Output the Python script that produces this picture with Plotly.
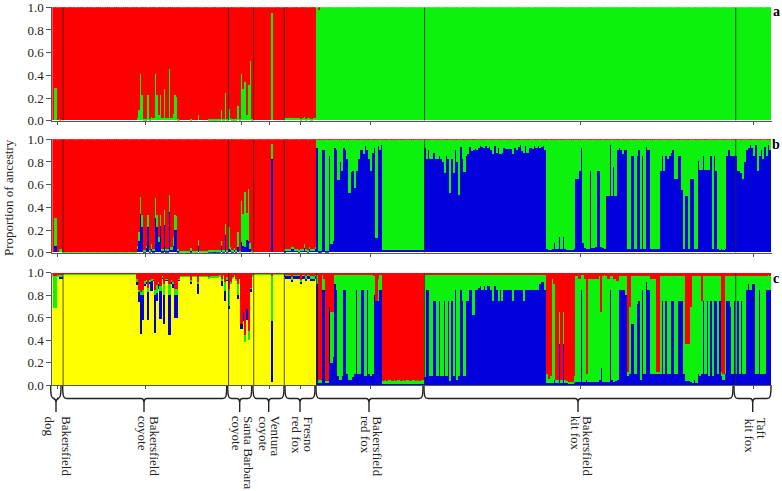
import plotly.graph_objects as go

W, H = 782, 491
group_sizes = [6, 92, 14, 17, 18, 60, 173, 20]
RED, GREEN, BLUE, YELLOW = "#FF0000", "#0CF20C", "#0000DC", "#FFFF00"
SERIF = "Liberation Serif"

# panel a (K=2), proportion of green, the rest is red
a_green = (
    [0, .29, .29, 0, .01, 0]
    + [0] * 41 + [.02, .09, .41, .22, .01, .01, .22, .01, .03, .02, .41, .22, .05, .22, .02, .28, .02, .02, .45, .02, .06, .22, .21, .01]
    + [0] * 6 + [.01] + [0] * 3 + [.05] + [0] * 5 + [.01] * 7 + [.09, .01, .24, .01]
    + [.1, .02, .01, .01, .01, .13, .01, .41, .28, .34, .05, .31, .52, .01]
    + [0] * 10 + [.95] + [0] * 6
    + [.02, .02, .02, .02, .02, .02, .025, .025, .02, .01, .02, .03, .01, .02, .02, .01, .02, .02]
    + [1, .97] + [1] * 58
    + [1] * 193
)

# panel b (K=3)
b_blue_coyote = (
    [0, .06, .06, 0, 0, 0]
    + [0] * 41 + [.03, .1, .34, .22, .01, .04, .22, .01, .03, .01, .3, .22, .09, .23, .01, .24, .01, .01, .36, .02, .06, .2, .2, .01]
    + [0] * 6 + [.01] + [0] * 3 + [.06] + [0] * 5 + [.01] * 7 + [.06, .01, .15, .01]
    + [.03, .02, .01, .02, .01, .05, 0, .09, .06, .05, .11, .1, .03, 0]
    + [0] * 10 + [.82] + [0] * 6
    + [.01, .02, .02, .02, .03, .03, .02, .02, .01, .02, .02, .04, .02, .01, .03, .02, .02, .03]
)
b_total_coyote = (
    [0, .3, .3, 0, .03, .03]
    + [.005] * 41 + [.06, .18, .49, .33, .02, .06, .33, .02, .07, .03, .48, .33, .14, .33, .03, .37, .03, .03, .51, .05, .14, .33, .32, .03]
    + [.01] * 6 + [.04] + [.01] * 3 + [.11] + [.01] * 5 + [.02] * 7 + [.1, .02, .25, .02]
    + [.22, .05, .02, .04, .02, .18, .01, .45, .34, .53, .35, .56, .08, .01]
    + [0] * 10 + [.96] + [0] * 6
    + [.03, .03, .03, .03, .05, .05, .03, .03, .02, .03, .03, .07, .03, .02, .05, .03, .03, .05]
)
b_blue_redfox = (
    [.92, .01, .01, .9, .9, .01, .01, .85, .07, .1, .92, .9, .64, .8, .72, .92, .9, .82, .52, .71, .72, .57, .72, .82,
     .9, .9, .87, .94, .9, .82, .72, .88, .92, .13, .94, .9, .95] + [.02] * 23
)
b_blue_kitfox = [
    .92, .82, .9, .82, .82, .88, .82, .82, .85, .82, .8, .7, .85, .82, .52, .82, .7, .9, .8, .51, .93, .82, .71, .85,
    .87, .93, .89, .9, .91, .9, .92, .94, .93, .92, .94, .92, .93, .9, .87, .94, .88, .92, .87, .88, .92, .91, .91, .91,
    .91, .87, .92, .9, .93, .95, .89, .88, .94, .88, .92, .92, .91, .94, .92, .94,
    .92, .93, .94, .9, .03, .02, .02, .03, .08, .03, .03, .14, .03, .14, .03, .02, .02, .02, .02, .03, .65, .65, .72, .92,
    .08, .04, .03, .03, .72, .04, .04, .05, .72, .72, .05, .04, .03, .5, .5, .95, .5, .75, .5, .9, .92, .9, .87, .9, .9,
    .03, .03, .85, .85, .03, .85, .9, .03, .85, .03, .93, .9, .9, .03, .03, .03, .03, .03, .72, .85, .72, .85, .82, .85,
    .88, .9, .65, .65, .85, .85, .55, .03, .5, .5, .03, .65, .65, .03, .03, .81, .73, .73, .85, .73, .73, .73, .85, .03,
    .85, .72, .03, .02, .03, .02, .03, .85, .9, .85, .85, .85,
    .85, .72, .72, .7, .65, .8, .9, .92, .95, .92, .85, .95, .72, .85, .9, .82, .93, .85, .95, .9,
]
b_blue = b_blue_coyote + b_blue_redfox + b_blue_kitfox
b_total = b_total_coyote + [.995] * 253

# panel c (K=4), stacked yellow, blue, green, rest is red
c_yellow = (
    [.96, .69, .69, .96, .95, .95]
    + [.99] * 41 + [.89, .74, .46, .58, .88, .9, .58, .9, .84, .93, .47, .75, .86, .59, .95, .55, .93, .93, .45, .9, .87, .6, .6, .93,
                    .97, .97, .97, .97, .97, .97, .9, .97, .97, .97, .81, .97, .97, .97, .97, .97, .95, .96, .96, .96, .96, .96, .97, .88, .98, .75, .93]
    + [.68, .9, .95, .97, .93, .77, .95, .5, .57, .39, .58, .4, .83, .97]
    + [.985] * 10 + [.03] + [.985] * 6
    + [.96, .95, .95, .95, .92, .95, .95, .95, .95, .9, .95, .95, .93, .95, .95, .93, .93, .95]
    + [0] * 253
)
c_blue_coyote = (
    [0, 0, 0, 0, .01, .01]
    + [0] * 41 + [.03, .09, .34, .22, .02, .02, .25, .02, .09, .01, .33, .07, .04, .25, .01, .25, .01, .01, .35, .02, .03, .2, .2, .01]
    + [0] * 6 + [.02] + [0] * 3 + [.09] + [0] * 5 + [0] * 7 + [.05, 0, .09, .01]
    + [.03, 0, 0, 0, 0, .03, 0, .05, .08, 0, .1, 0, .03, 0]
    + [0] * 10 + [.54] + [0] * 6
    + [.02] * 18
)
c_green_coyote = (
    [.02, .28, .28, .02, .02, .02]
    + [.005] * 41 + [.03, .02, .03, .05, .03, .02, .04, .02, .02, .01, .05, .07, .02, .04, .01, .1, .01, .01, .1, .02, .02, .06, .06, .01]
    + [.005] * 6 + [.02] + [.005] * 3 + [.02] + [.005] * 5 + [.01] * 7 + [.02, .005, .08, .02]
    + [.15, .02, .01, .01, .02, .1, 0, 0, 0, .06, 0, .08, .01, .01]
    + [.01] * 10 + [.4] + [.01] * 6
    + [.02] * 18
)
c_blue_redfox = (
    [.9, .02, .02, .85, .85, .02, .02, .7, .2, .25, .9, .85, .08, .05, .08, .85, .85, .1, .05, .05, .07, .1, .85,
     .1, .1, .85, .85, .08, .85, .1, .08, .1, .8, .75, .75, .85, .85] + [.01] * 23
)
c_green_redfox = (
    [.08, .03, .03, .13, .1, .02, .02, 0, .45, .4, .08, .13, .9, .93, .9, .13, .13, .88, .93, .93, .91, .88, .13,
     .88, .88, .13, .13, .9, .13, .88, .9, .88, .17, 0, .2, .13, .13] + [.03, .04, .03, .04, .04, .03, .04, .03, .04, .04, .03, .04, .03, .04, .04, .03, .04, .04, .03, .04, .03, .04, .04]
)
c_blue_kitfox = [
    .07, .85, .85, .08, .08, .75, .75, .08, .75, .08, .08, .75, .08, .75, .04, .75, .08, .85, .05, .08, .85, .75, .08, .75,
    .75, .85, .85, .63, .85, .85, .87, .88, .85, .88, .85, .88, .88, .85, .75, .88, .85, .75, .85, .75, .85, .85, .85, .85,
    .85, .75, .85, .85, .85, .85, .85, .75, .85, .85, .85, .85, .85, .85, .85, .85,
    .9, .92, .92, .85, .02, .02, .02, .02, .05, .02, .02, .37, .02, .37, .02, .02, .02, .02, .02, .02, .03, .03, .03, .85,
    .03, .03, .05, .03, .03, .03, .03, .03, .03, .05, .15, .03, .03, .03, .03, .85, .05, .03, .04, .05, .85, .85, .85, .85,
    .8, .08, .1, .55, .55, .1, .72, .75, .05, .85, .1, .92, .85, .85, .1, .1, .1, .1, .1, .1, .75, .1, .75, .1, .1, .75,
    .75, .1, .1, .75, .75, .75, .1, .04, .04, .04, .03, .02, .05, .02, .1, .08, .1, .75, .1, .75, .08, .75, .08, .75, .75,
    .1, .75, .08, .05, .1, .75, .75, .7, .1,
    .75, .1, .75, .1, .75, .1, .1, .85, .9, .85, .9, .9, .1, .1, .85, .1, .1, .1, .85, .85, .85,
][:193]
# top of the green part in the kit fox columns, low values are the red columns
c_top_kitfox = (
    [.98] * 64
    + [.98, .98, .98, .98, .1, .06, .08, .95, .9, .05, .05, .65, .05, .65, .05, .04, .03, .03, .03, .08, .97, .97, .95, .98,
       .98, .95, .1, .95, .95, .95, .95, .95, .95, .97, .65, .97, .98, .97, .95, .97, .97, .95, .95, .93, .97, .97, .97, .97,
       .97, .12, .7, .97, .97, .97, .97, .97, .97, .97, .97, .97, .97, .97, .95, .95, .95, .12, .12, .97, .97, .97, .97, .97,
       .97, .97, .97, .97, .97, .97, .97, .97, .97, .37, .37, .37, .7, .97, .97, .97, .97, .97, .75, .97, .97, .97, .97, .97,
       .97, .97, .97, .97, .97, .12, .1, .97, .97, .97, .97, .97, .97, .97, .97, .97, .97, .97, .97, .97, .97, .97, .97, .97,
       .97, .97, .97, .97, .97, .97, .97, .98, .97]
)[:193]
c_blue = c_blue_coyote + c_blue_redfox + c_blue_kitfox
c_green = c_green_coyote + c_green_redfox + [max(t - b, 0) for t, b in zip(c_top_kitfox, c_blue_kitfox)]

N = sum(group_sizes)
assert all(len(v) == N for v in (a_green, b_blue, b_total, c_yellow, c_blue, c_green)), [
    len(v) for v in (a_green, b_blue, b_total, c_yellow, c_blue, c_green)]

xs = list(range(N))
fig = go.Figure()


def add_stack(n, layers):
    for vals, color in layers:
        fig.add_trace(go.Bar(x=xs, y=vals, marker_color=color, marker_line_width=0,
                             xaxis="x" + ("" if n == 1 else str(n)), yaxis="y" + ("" if n == 1 else str(n))))


add_stack(1, [(a_green, GREEN), ([1 - g for g in a_green], RED)])
add_stack(2, [(b_blue, BLUE), ([max(t - b, 0) for t, b in zip(b_total, b_blue)], GREEN), ([1 - t for t in b_total], RED)])
add_stack(3, [(c_yellow, YELLOW), (c_blue, BLUE), (c_green, GREEN),
              ([max(1 - y - b - g, 0) for y, b, g in zip(c_yellow, c_blue, c_green)], RED)])

edges = [sum(group_sizes[:i]) - .5 for i in range(1, len(group_sizes))]
mids = [sum(group_sizes[:i]) + group_sizes[i] / 2 - .5 for i in range(len(group_sizes))]
panel_px = [(7.3, 120.7), (139.3, 252.7), (272.7, 385)]
x_dom = [52.3 / W, 771.7 / W]
axis_style = dict(showline=True, linecolor="#555555", linewidth=1, ticks="outside", tickcolor="#555555",
                  showgrid=False, zeroline=False, automargin=False)
shapes = []
for n, (top, bot) in enumerate(panel_px, start=1):
    s = "" if n == 1 else str(n)
    fig.update_layout({
        "xaxis" + s: dict(domain=x_dom, range=[-.5, N - .5], tickvals=mids, ticklen=3, showticklabels=False, anchor="y" + s, **axis_style),
        "yaxis" + s: dict(domain=[1 - bot / H, 1 - top / H], range=[0, 1], tickvals=[0, .2, .4, .6, .8, 1], tickformat=".1f", ticklen=5,
                          ticklabeloverflow="allow", tickfont=dict(family=SERIF, size=13, color="#222222"), anchor="x" + s, **axis_style),
    })
    for e in edges:
        if n < 3 and e == edges[4]:
            continue
        shapes.append(dict(type="line", xref="x" + s, yref="y" + s, x0=e, x1=e, y0=0, y1=1,
                           line=dict(color="rgba(40,40,40,0.8)", width=1)))

# curly brackets under the last panel: left tip, stem, right tip
brace_px = [(50.7, 56, 61), (62.7, 144, 226.7), (227.7, 239.7, 251.7), (253, 268.7, 284), (285, 300, 315),
            (316, 369, 423), (424, 578, 733), (734, 752.7, 771)]
for x0, xm, x1 in brace_px:
    pts = [("M", x0, 386), ("C", x0, 397, x0 + 1, 398.5, x0 + 4, 398.5), ("L", xm - 3, 398.5), ("C", xm - 1, 398.5, xm, 400, xm, 403),
           ("L", xm, 412), ("M", xm, 403), ("C", xm, 400, xm + 1, 398.5, xm + 3, 398.5), ("L", x1 - 4, 398.5), ("C", x1 - 1, 398.5, x1, 397, x1, 386)]
    path = " ".join(p[0] + " " + " ".join(f"{(v / W if i % 2 == 0 else 1 - v / H):.5f}" for i, v in enumerate(p[1:])) for p in pts)
    shapes.append(dict(type="path", xref="paper", yref="paper", path=path, line=dict(color="#222222", width=1.4)))

# rotated labels, one annotation per line
label_lines = [("dog", 49.5, 414), ("Bakersfield", 67, 414), ("coyote", 142.7, 414), ("Bakersfield", 155, 414),
               ("coyote", 236.7, 414), ("Santa Barbara", 249, 414), ("coyote", 263.3, 414), ("Ventura", 275.7, 414),
               ("red fox", 296.7, 414), ("Fresno", 308, 414), ("red fox", 366, 414), ("Bakersfield", 377.7, 414),
               ("kit fox", 575.7, 414), ("Bakersfield", 588, 414), ("kit fox", 749, 416), ("Taft", 761.7, 416)]
annotations = [dict(text=t, x=x / W, y=1 - y / H, xref="paper", yref="paper", xanchor="center", yanchor="top", textangle=90,
                    showarrow=False, font=dict(family=SERIF, size=13, color="#222222")) for t, x, y in label_lines]
annotations.append(dict(text="Proportion of ancestry", x=9 / W, y=1 - 198 / H, xref="paper", yref="paper", textangle=-90,
                        xanchor="center", yanchor="middle", showarrow=False, font=dict(family=SERIF, size=13, color="#222222")))
for t, y in [("a", 12), ("b", 144), ("c", 278)]:
    annotations.append(dict(text=f"<b>{t}</b>", x=776 / W, y=1 - y / H, xref="paper", yref="paper", xanchor="center", yanchor="middle",
                            showarrow=False, font=dict(family=SERIF, size=14, color="black")))

fig.update_layout(width=W, height=H, margin=dict(l=0, r=0, t=0, b=0), barmode="stack", bargap=0, showlegend=False,
                  plot_bgcolor="white", paper_bgcolor="white", shapes=shapes, annotations=annotations)
# the page's default body margin would push the figure 8px in
fig.write_html("out.html", config={"displayModeBar": False}, post_script="document.body.style.margin='0';")
